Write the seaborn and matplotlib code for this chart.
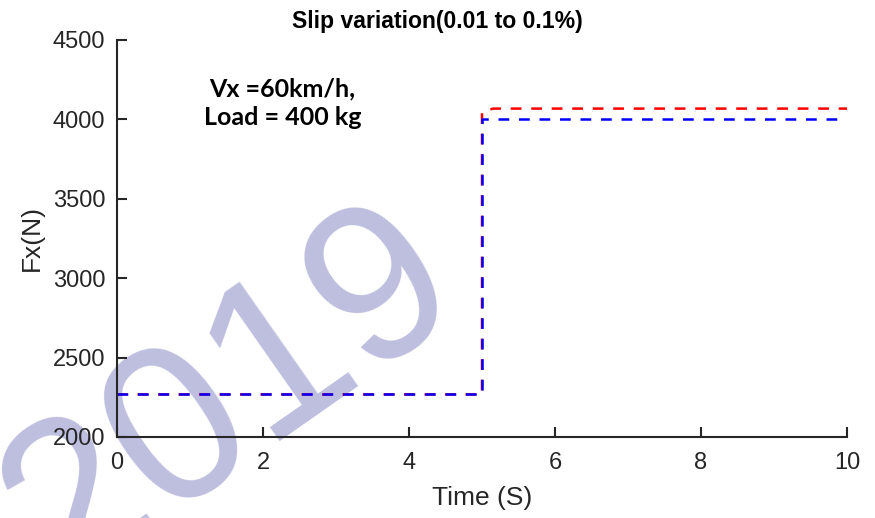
import matplotlib
matplotlib.use("Agg")
import matplotlib.pyplot as plt
import seaborn as sns
import pandas as pd

# Longitudinal force response to a slip step at t = 5 s
time_red = [0, 5, 5, 5.15, 10]
fx_red = [2268, 2268, 4045, 4068, 4068]
time_blue = [0, 5, 5, 10]
fx_blue = [2268, 2268, 4000, 4000]

x_ticks = [0, 2, 4, 6, 8, 10]
y_ticks = [2000, 2500, 3000, 3500, 4000, 4500]

sns.set_theme(style="white")
plt.rcParams["font.family"] = ["Liberation Sans", "DejaVu Sans"]

fig = plt.figure(figsize=(8.75, 5.18), dpi=100)
ax = fig.add_axes([0.1337, 0.1564, 0.8343, 0.7664])
ax.set_facecolor("none")
ax.set_zorder(2)

red_df = pd.DataFrame({"Time": time_red, "Fx": fx_red})
blue_df = pd.DataFrame({"Time": time_blue, "Fx": fx_blue})

dash = (0, (4.3, 3.9))
sns.lineplot(data=red_df, x="Time", y="Fx", sort=False, estimator=None,
             color="#FF0000", linewidth=1.8, linestyle=dash, ax=ax)
sns.lineplot(data=blue_df, x="Time", y="Fx", sort=False, estimator=None,
             color="#0000FF", linewidth=1.8, linestyle=dash, ax=ax)

ax.set_xlim(0, 10)
ax.set_ylim(2000, 4500)
ax.set_xticks(x_ticks)
ax.set_yticks(y_ticks)
ax.set_xticklabels([str(v) for v in x_ticks])
ax.set_yticklabels([str(v) for v in y_ticks])

for side in ("top", "right"):
    ax.spines[side].set_visible(False)
for side in ("left", "bottom"):
    ax.spines[side].set_color("#262626")
    ax.spines[side].set_linewidth(1.5)

ax.tick_params(axis="both", direction="in", length=7, width=1.5,
               color="#262626", labelcolor="#262626", labelsize=17,
               left=True, bottom=True)
ax.tick_params(axis="y", pad=8.5)
ax.tick_params(axis="x", pad=10.5)

ax.set_xlabel("Time (S)", fontsize=19, color="#262626", labelpad=9)
ax.set_ylabel("Fx(N)", fontsize=19, color="#262626", labelpad=6)

fig.text(0.5, 0.958, "Slip variation(0.01 to 0.1%)", ha="center", va="center",
         fontsize=16.6, fontweight="bold", color="black")

ax.text(2.27, 4100, "Vx =60km/h,\nLoad = 400 kg", ha="center", va="center",
        fontsize=18, fontweight="bold", color="black", family=["Lato", "DejaVu Sans"],
        linespacing=1.3)

# Year mark behind the plot
fig.text(0.3025, 0.1444, "2019", rotation=35, rotation_mode="anchor",
         ha="center", va="baseline", fontsize=160, color="#BEBFDF",
         family=["Liberation Sans", "DejaVu Sans"], zorder=0)

fig.savefig("out.png", dpi=100)
